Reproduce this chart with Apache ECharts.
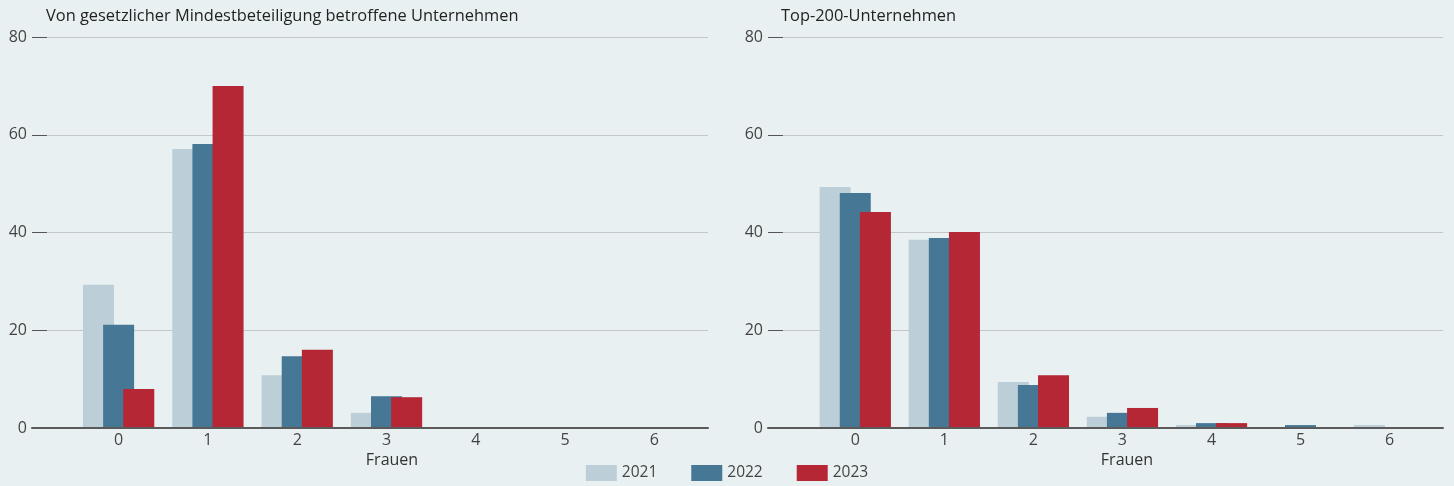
<!DOCTYPE html>
<html>
<head>
<meta charset="utf-8">
<script src="https://cdn.jsdelivr.net/npm/echarts@6/dist/echarts.min.js"></script>
<style>
html,body{margin:0;padding:0;background:#e8f0f1;}
#c{width:1454px;height:486px;}
</style>
</head>
<body>
<div id="c"></div>
<script>
const categories = [0, 1, 2, 3, 4, 5, 6];
const years = ['2021', '2022', '2023'];
const colors = ['#bccfd8', '#467795', '#b52735'];
const yTicks = [0, 20, 40, 60, 80];

// Von gesetzlicher Mindestbeteiligung betroffene Unternehmen
const left2021 = [29.3, 57.1, 10.8, 3.1, 0, 0, 0];
const left2022 = [21.1, 58.1, 14.7, 6.5, 0, 0, 0];
const left2023 = [8.0, 70.0, 16.0, 6.3, 0, 0, 0];

// Top-200-Unternehmen
const right2021 = [49.3, 38.5, 9.4, 2.3, 0.6, 0, 0.6];
const right2022 = [48.1, 38.9, 8.8, 3.1, 1.0, 0.6, 0];
const right2023 = [44.2, 40.1, 10.8, 4.1, 1.0, 0, 0];

const titles = ['Von gesetzlicher Mindestbeteiligung betroffene Unternehmen', 'Top-200-Unternehmen'];
const xName = 'Frauen';

const FONT = '"Open Sans", "Noto Sans", sans-serif';
const chart = echarts.init(document.getElementById('c'), null, {renderer: 'canvas'});

const grids = [
  {left: 32, top: 37, width: 676, bottom: 58},
  {left: 768, top: 37, width: 675, bottom: 58}
];
const xMins = [-0.97, -0.98];

function xAxis(i) {
  return {
    type: 'value', gridIndex: i, min: xMins[i], max: 6.6, z: 5,
    axisLine: {show: true, onZero: false, lineStyle: {color: '#5a5a5a', width: 2}},
    axisTick: {show: false},
    splitLine: {show: false},
    axisLabel: {customValues: categories, margin: 4, fontSize: 16, color: '#444', fontFamily: FONT}
  };
}
function yAxis(i) {
  return {
    type: 'value', gridIndex: i, min: yTicks[0], max: yTicks[yTicks.length - 1], interval: 20,
    axisLine: {show: false, onZero: false},
    axisTick: {show: true, inside: true, length: 15, lineStyle: {color: '#555', width: 1}},
    splitLine: {show: true, lineStyle: {color: '#c3c7cb', width: 1}},
    axisLabel: {margin: 5, fontSize: 16, color: '#444', fontFamily: FONT}
  };
}
function pairs(arr) { return categories.map((c, k) => [c, arr[k]]); }

const panelData = [[left2021, left2022, left2023], [right2021, right2022, right2023]];
const series = [];
panelData.forEach((sets, p) => {
  sets.forEach((vals, s) => {
    series.push({
      type: 'bar', name: years[s], xAxisIndex: p, yAxisIndex: p,
      data: pairs(vals), barWidth: 31, barGap: '-35%',
      itemStyle: {color: colors[s]},
      emphasis: {disabled: true}, animation: false
    });
  });
});

chart.setOption({
  backgroundColor: '#e8f0f1',
  animation: false,
  color: colors,
  title: [
    {text: titles[0], left: 41, top: 3, textStyle: {fontSize: 16.4, fontWeight: 'normal', color: '#222', fontFamily: FONT}},
    {text: titles[1], left: 776, top: 3, textStyle: {fontSize: 16.4, fontWeight: 'normal', color: '#222', fontFamily: FONT}},
    {text: xName, left: 387, top: 447, textAlign: 'center', textStyle: {fontSize: 16, fontWeight: 'normal', color: '#333', fontFamily: FONT}},
    {text: xName, left: 1122, top: 447, textAlign: 'center', textStyle: {fontSize: 16, fontWeight: 'normal', color: '#333', fontFamily: FONT}}
  ],
  legend: {
    data: years, left: 'center', top: 460, itemWidth: 31, itemHeight: 16, itemGap: 34,
    icon: 'rect', selectedMode: false,
    textStyle: {fontSize: 15.5, color: '#444', fontFamily: FONT}
  },
  grid: grids,
  xAxis: [xAxis(0), xAxis(1)],
  yAxis: [yAxis(0), yAxis(1)],
  series: series
});
</script>
</body>
</html>
